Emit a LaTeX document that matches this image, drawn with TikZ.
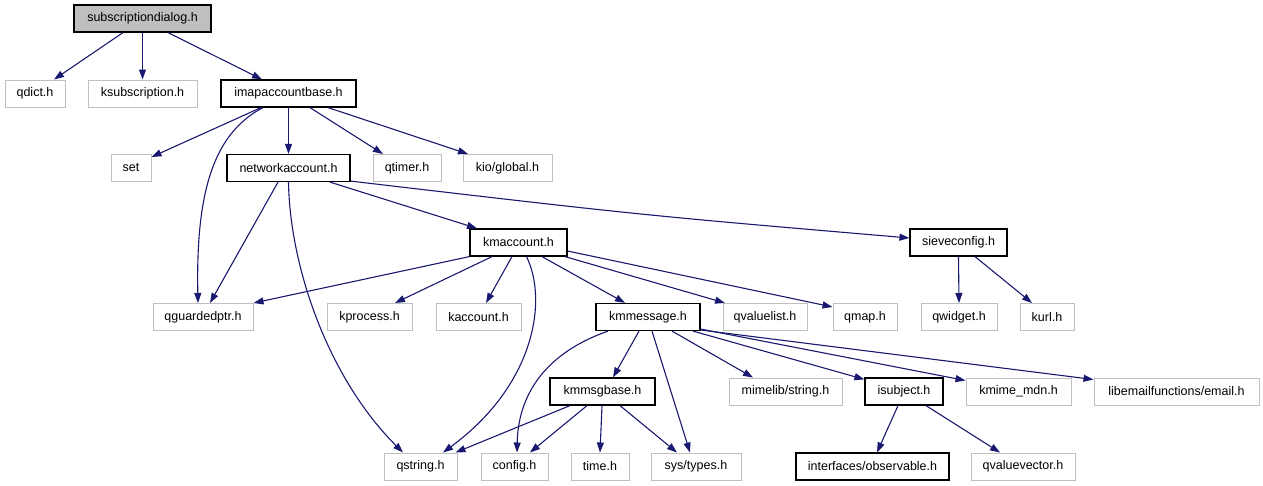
\documentclass[tikz,border=0pt]{standalone}
\usepackage{fontspec}
\setmainfont{Liberation Sans}
\usetikzlibrary{arrows.meta}
\definecolor{edgeblue}{HTML}{191970}
\definecolor{boxgray}{HTML}{BFBFBF}
\begin{document}
\begin{tikzpicture}[x=1pt,y=-1pt,
  base/.style={rectangle,inner sep=0pt,minimum height=27pt,font=\fontsize{12.5}{14}\selectfont,text=black},
  ext/.style={base,draw=boxgray,line width=1pt},
  doc/.style={base,draw=black,line width=1.2pt},
  root/.style={base,draw=black,fill=boxgray,line width=1.2pt},
  e/.style={draw=edgeblue,line width=1.1pt,-{Triangle[length=10pt,width=7pt]}}]
\useasboundingbox (0,0) rectangle (1263,485);
% row 1
\node[root,minimum width=137pt] (sub) at (142.5,18.5) {subscriptiondialog.h};
% row 2
\node[ext,minimum width=60pt] (qdict) at (35,93.5) {qdict.h};
\node[ext,minimum width=109pt] (ksub) at (142.5,93.5) {ksubscription.h};
\node[doc,minimum width=135pt] (imap) at (288.5,93.5) {imapaccountbase.h};
% row 3
\node[ext,minimum width=40pt] (set) at (131,168) {set};
\node[doc,minimum width=123pt] (net) at (288.5,168) {networkaccount.h};
\node[ext,minimum width=68pt] (qtimer) at (407,168) {qtimer.h};
\node[ext,minimum width=89pt] (kio) at (507.5,168) {kio/global.h};
% row 4
\node[doc,minimum width=97pt] (kmacc) at (518.5,242.5) {kmaccount.h};
\node[doc,minimum width=97pt] (sieve) at (958.5,242.5) {sieveconfig.h};
% row 5
\node[ext,minimum width=100pt] (qguard) at (203,317) {qguardedptr.h};
\node[ext,minimum width=85pt] (kprocess) at (369.5,317) {kprocess.h};
\node[ext,minimum width=85pt] (kaccount) at (478.5,317) {kaccount.h};
\node[doc,minimum width=104pt] (kmmsg) at (648,317) {kmmessage.h};
\node[ext,minimum width=84pt] (qvaluelist) at (765,317) {qvaluelist.h};
\node[ext,minimum width=64pt] (qmap) at (865,317) {qmap.h};
\node[ext,minimum width=76pt] (qwidget) at (959,317) {qwidget.h};
\node[ext,minimum width=54pt] (kurl) at (1047,317) {kurl.h};
% row 6
\node[doc,minimum width=105pt] (kmmsgbase) at (602.5,391.5) {kmmsgbase.h};
\node[ext,minimum width=113pt] (mimelib) at (785.5,391.5) {mimelib/string.h};
\node[doc,minimum width=78pt] (isubject) at (904,391.5) {isubject.h};
\node[ext,minimum width=105pt] (kmime) at (1018.5,391.5) {kmime\_mdn.h};
\node[ext,minimum width=165pt] (libemail) at (1176.5,391.5) {libemailfunctions/email.h};
% row 7
\node[ext,minimum width=73pt] (qstring) at (420.5,466.5) {qstring.h};
\node[ext,minimum width=67pt] (config) at (514.5,466.5) {config.h};
\node[ext,minimum width=58pt] (time) at (600,466.5) {time.h};
\node[ext,minimum width=90pt] (systypes) at (696,466.5) {sys/types.h};
\node[doc,minimum width=153pt] (observable) at (872.5,466.5) {interfaces/observable.h};
\node[ext,minimum width=104pt] (qvaluevector) at (1023,466.5) {qvaluevector.h};
% edges
\draw[e] ([xshift=-19.5]sub.south) -- ([xshift=19]qdict.north);
\draw[e] (sub.south) -- (ksub.north);
\draw[e] ([xshift=25.5]sub.south) -- ([xshift=-26.5]imap.north);
\draw[e] ([xshift=-27.5]imap.south) -- ([yshift=-3]set.north east);
\draw[e] ([xshift=-25.5]imap.south) .. controls (210,135) and (196,200) .. ([xshift=-5]qguard.north);
\draw[e] (imap.south) -- (net.north);
\draw[e] ([xshift=21.5]imap.south) -- ([xshift=-24]qtimer.north);
\draw[e] ([xshift=39.5]imap.south) -- ([xshift=-39.5]kio.north);
\draw[e] ([xshift=-10.5]net.south) -- ([xshift=7]qguard.north);
\draw[e] (net.south) .. controls (290,270) and (330,380) .. ([xshift=-17.5]qstring.north);
\draw[e] ([xshift=41.5]net.south) -- ([xshift=-41.5]kmacc.north);
\draw[e] ([yshift=1]net.south east) .. controls (640,215) .. ([yshift=4.5]sieve.west);
\draw[e] (kmacc.south west) -- (qguard.north east);
\draw[e] ([xshift=-26.5]kmacc.south) -- ([xshift=25.5]kprocess.north);
\draw[e] ([xshift=-6.5]kmacc.south) -- ([xshift=7.5]kaccount.north);
\draw[e] ([xshift=8]kmacc.south) .. controls (548,300) and (535,385) .. ([xshift=22.5]qstring.north);
\draw[e] ([xshift=23.5]kmacc.south) -- ([xshift=-23]kmmsg.north);
\draw[e] ([xshift=46.5]kmacc.south) -- ([xshift=-40]qvaluelist.north);
\draw[e] ([yshift=-8.5]kmacc.east) -- ([yshift=-4]qmap.north west);
\draw[e] (sieve.south) -- (qwidget.north);
\draw[e] ([xshift=16.5]sieve.south) -- ([xshift=-15]kurl.north);
\draw[e] ([xshift=-40]kmmsg.south) .. controls (540,355) and (518,400) .. ([xshift=2.5]config.north);
\draw[e] ([xshift=-9]kmmsg.south) -- ([xshift=10.5]kmmsgbase.north);
\draw[e] ([xshift=4]kmmsg.south) -- ([xshift=-6]systypes.north);
\draw[e] ([xshift=24]kmmsg.south) -- ([xshift=-32.5]mimelib.north);
\draw[e] ([xshift=45]kmmsg.south) -- ([yshift=-2]isubject.north west);
\draw[e] ([yshift=-12]kmmsg.east) -- ([yshift=-3]kmime.north west);
\draw[e] ([yshift=-13]kmmsg.east) -- ([yshift=-2]libemail.north west);
\draw[e] ([xshift=-32.5]kmmsgbase.south) -- ([xshift=-2]qstring.north east);
\draw[e] ([xshift=-15.5]kmmsgbase.south) -- ([xshift=15.5]config.north);
\draw[e] ([xshift=-0.5]kmmsgbase.south) -- (time.north);
\draw[e] ([xshift=17.5]kmmsgbase.south) -- ([xshift=-19]systypes.north);
\draw[e] ([xshift=-6]isubject.south) -- ([xshift=4.5]observable.north);
\draw[e] ([xshift=22]isubject.south) -- ([xshift=-23]qvaluevector.north);
\end{tikzpicture}
\end{document}
